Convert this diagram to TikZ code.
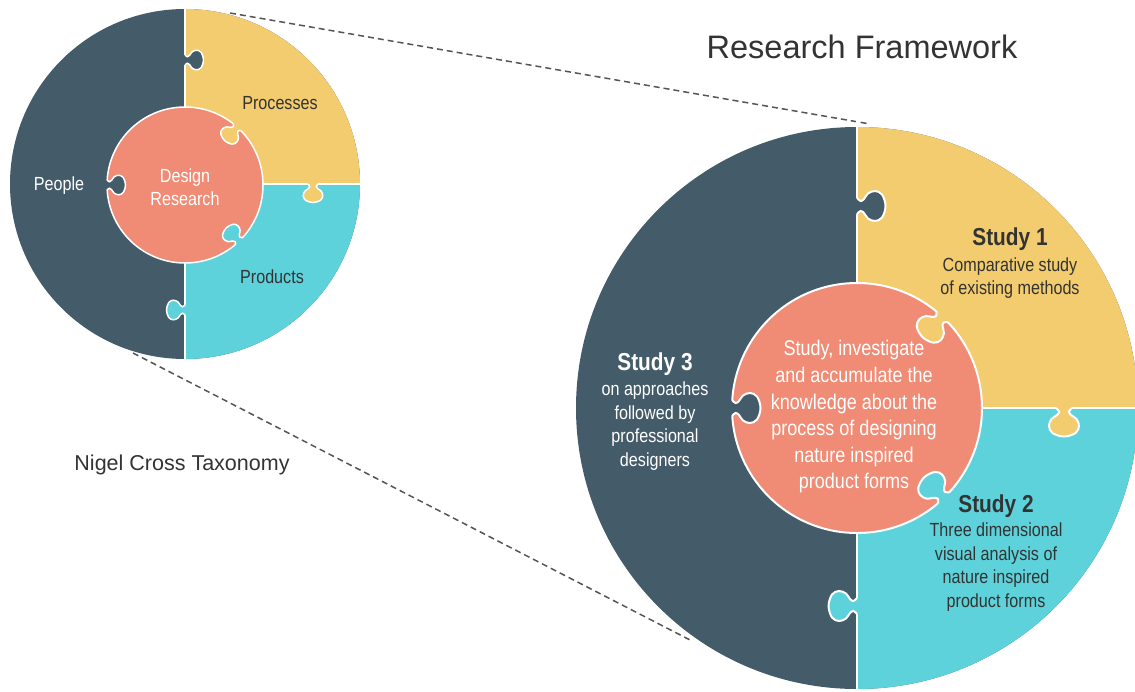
\documentclass[tikz,border=0pt]{standalone}
\usepackage{fontspec}
\setmainfont{Liberation Sans}
\newfontfamily\cond[FakeStretch=0.85]{Liberation Sans}
\definecolor{slate}{HTML}{445B6A}
\definecolor{sun}{HTML}{F2CC6E}
\definecolor{aqua}{HTML}{5ED2DA}
\definecolor{coral}{HTML}{F08C76}
\definecolor{ink}{HTML}{333333}
\definecolor{dashgray}{HTML}{555555}
\newcommand\keyhole[2]{%
  \fill[#1] (-3,-8) -- plot[smooth,tension=.6] coordinates {(0,-8) (3.5,-5) (7,-7) (11,-12.5) (18,-15) (25,-11.5) (28.5,0) (25,11.5) (18,15) (11,12.5) (7,7) (3.5,5) (0,8)} -- (-3,8) -- cycle;
  \draw[white,line width=#2] plot[smooth,tension=.6] coordinates {(0,-8) (3.5,-5) (7,-7) (11,-12.5) (18,-15) (25,-11.5) (28.5,0) (25,11.5) (18,15) (11,12.5) (7,7) (3.5,5) (0,8)};}
\tikzset{
  lbl/.style={inner sep=0pt, align=center, font=\cond\fontsize{19}{23.5}\selectfont},
  ttl/.style={inner sep=0pt, align=center, font=\cond\bfseries\fontsize{24.5}{27}\selectfont},
  mid/.style={inner sep=0pt, align=center, text=white, font=\cond\fontsize{21.2}{26.6}\selectfont},
  zoomline/.style={draw=dashgray, line width=1.5pt, dash pattern=on 6pt off 4pt}
}
\begin{document}
\begin{tikzpicture}[x=1pt,y=-1pt]
\useasboundingbox (0,0) rectangle (1135,691);
\clip (0,0) rectangle (1135,691);
% zoom lines
\coordinate (ua) at (230,13);
\coordinate (ub) at (870,124);
\coordinate (la) at (133,353);
\coordinate (lb) at (692,641);
\draw[zoomline] (ua) -- (ub);
\draw[zoomline] (la) -- (lb);
% ---------- big puzzle ----------
\fill[slate] (857,408) circle (281);
\begin{scope}
  \clip (857,0) rectangle (1200,408);
  \fill[sun] (857,408) circle (281);
\end{scope}
\begin{scope}
  \clip (857,408) rectangle (1200,800);
  \fill[aqua] (857,408) circle (281);
\end{scope}
\draw[white,line width=2pt] (857,120) -- (857,700);
\draw[white,line width=2pt] (857,408) -- (1140,408);
\begin{scope}[shift={(857,206)}] \keyhole{slate}{2pt} \end{scope}
\begin{scope}[shift={(1064,408)},rotate=-90] \keyhole{sun}{2pt} \end{scope}
\begin{scope}[shift={(857,606)},rotate=180] \keyhole{aqua}{2pt} \end{scope}
\fill[coral,draw=white,line width=2pt] (857,408) circle (125);
\begin{scope}[shift={(857,408)},rotate=180]
  \begin{scope}[shift={(125,0)},rotate=180] \keyhole{slate}{2pt} \end{scope}
\end{scope}
\begin{scope}[shift={(857,408)},rotate=47]
  \begin{scope}[shift={(125,0)},rotate=180] \keyhole{sun}{2pt} \end{scope}
\end{scope}
\begin{scope}[shift={(857,408)},rotate=-46]
  \begin{scope}[shift={(125,0)},rotate=180] \keyhole{aqua}{2pt} \end{scope}
\end{scope}
% ---------- small puzzle ----------
\fill[slate] (185,184) circle (175);
\begin{scope}
  \clip (185,0) rectangle (400,184);
  \fill[sun] (185,184) circle (175);
\end{scope}
\begin{scope}
  \clip (185,184) rectangle (400,400);
  \fill[aqua] (185,184) circle (175);
\end{scope}
\draw[white,line width=1.5pt] (185,5) -- (185,365);
\draw[white,line width=1.5pt] (185,184) -- (365,184);
\begin{scope}[shift={(185,60)},scale=.65] \keyhole{slate}{1.5pt} \end{scope}
\begin{scope}[shift={(313,184)},rotate=-90,scale=.65] \keyhole{sun}{1.5pt} \end{scope}
\begin{scope}[shift={(185,310)},rotate=180,scale=.65] \keyhole{aqua}{1.5pt} \end{scope}
\fill[coral,draw=white,line width=1.5pt] (185,185) circle (78);
\begin{scope}[shift={(185,185)},rotate=180]
  \begin{scope}[shift={(78,0)},rotate=180,scale=.65] \keyhole{slate}{1.5pt} \end{scope}
\end{scope}
\begin{scope}[shift={(185,185)},rotate=48]
  \begin{scope}[shift={(78,0)},rotate=180,scale=.65] \keyhole{sun}{1.5pt} \end{scope}
\end{scope}
\begin{scope}[shift={(185,185)},rotate=-46]
  \begin{scope}[shift={(78,0)},rotate=180,scale=.65] \keyhole{aqua}{1.5pt} \end{scope}
\end{scope}
% ---------- texts ----------
\node[inner sep=0pt, text=ink, font=\fontsize{32.5}{36}\selectfont] (title) at (862,47) {Research Framework};
\node[inner sep=0pt, text=ink, font=\fontsize{21.5}{25}\selectfont] (nigel) at (182,465) {Nigel Cross Taxonomy};
\node[lbl, text=ink] (proc) at (280,103) {Processes};
\node[lbl, text=ink] (prod) at (272,277) {Products};
\node[lbl, text=white] (people) at (59,186) {People};
\node[lbl, text=white] (dr) at (185,187) {Design\\Research};
\node[ttl, text=ink] (s1t) at (1010,239) {Study 1};
\node[lbl, text=ink] (s1b) at (1010,278) {Comparative study\\of existing methods};
\node[ttl, text=ink] (s2t) at (996,506) {Study 2};
\node[lbl, text=ink] (s2b) at (996,567) {Three dimensional\\visual analysis of\\nature inspired\\product forms};
\node[ttl, text=white] (s3t) at (655,364) {Study 3};
\node[lbl, text=white] (s3b) at (655,426) {on approaches\\followed by\\professional\\designers};
\node[mid] (core) at (854,417) {Study, investigate\\and accumulate the\\knowledge about the\\process of designing\\nature inspired\\product forms};
\end{tikzpicture}
\end{document}
